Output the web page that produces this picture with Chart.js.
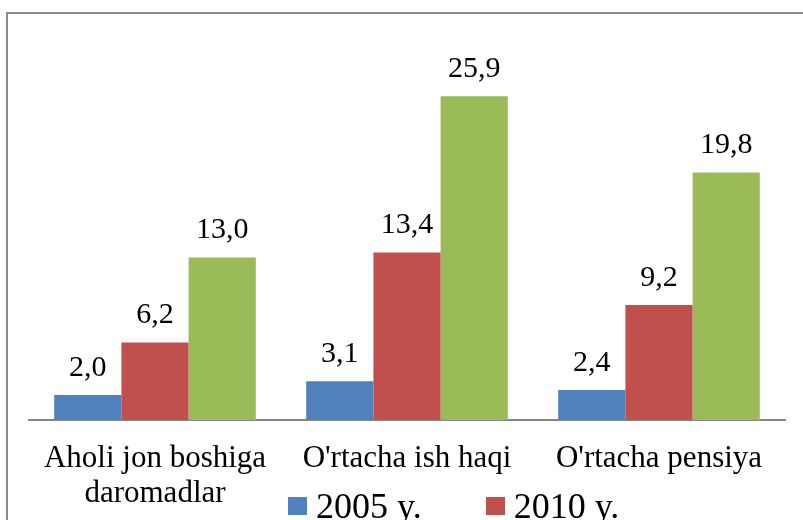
<!DOCTYPE html>
<html>
<head>
<meta charset="utf-8">
<script src="https://cdn.jsdelivr.net/npm/chart.js@4/dist/chart.umd.min.js"></script>
<style>
  html, body { margin: 0; padding: 0; background: #fff; overflow: hidden; width: 803px; height: 520px; }
  #frame { position: absolute; left: 6px; top: 12px; width: 900px; height: 600px; border-left: 2px solid #8c8c8c; border-top: 2px solid #8c8c8c; }
  #chart-wrap { position: absolute; left: 0; top: 0; width: 803px; height: 540px; }
  #legend { position: absolute; left: 288px; top: 484px; width: 345px; font-family: "Liberation Serif", "Times New Roman", serif; font-size: 36px; line-height: 38px; color: #000; }
  .legend-item { display: inline-flex; align-items: center; margin-right: 64px; white-space: nowrap; }
  .legend-item:nth-child(2) { margin-right: 0; }
  .legend-box { display: inline-block; width: 19px; height: 18px; margin-right: 9px; }
</style>
</head>
<body>
<div id="frame"></div>
<div id="chart-wrap"><canvas id="chart"></canvas></div>
<div id="legend"></div>
<script>
// chart data
const categories = [['Aholi jon boshiga', 'daromadlar'], "O'rtacha ish haqi", "O'rtacha pensiya"];
const seriesLabels = ['2005 y.', '2010 y.', '2013 y.'];
const values2005 = [2.0, 3.1, 2.4];
const values2010 = [6.2, 13.4, 9.2];
const values2013 = [13.0, 25.9, 19.8];
const seriesColors = ['#4F81BD', '#C0504D', '#9BBB59'];

const serif = "'Liberation Serif', 'Times New Roman', serif";

// Draw the value above each bar, with a comma as decimal mark
const valueLabels = {
    id: 'valueLabels',
    afterDatasetsDraw(chart) {
        const ctx = chart.ctx;
        ctx.save();
        ctx.font = '30px ' + serif;
        ctx.fillStyle = '#000';
        ctx.textAlign = 'center';
        ctx.textBaseline = 'alphabetic';
        chart.data.datasets.forEach((dataset, i) => {
            chart.getDatasetMeta(i).data.forEach((bar, j) => {
                const text = dataset.data[j].toFixed(1).replace('.', ',');
                ctx.fillText(text, bar.x, bar.y - 19);
            });
        });
        ctx.restore();
    }
};

function buildDatasets() {
    return [values2005, values2010, values2013].map((data, i) => ({
        label: seriesLabels[i],
        data: data,
        backgroundColor: seriesColors[i],
        borderWidth: 0,
        categoryPercentage: 0.8,
        barPercentage: 1.0
    }));
}

// HTML legend; the third entry wraps onto a row below the visible area
function buildLegend(chart) {
    const legend = document.getElementById('legend');
    chart.data.datasets.forEach(dataset => {
        const item = document.createElement('span');
        item.className = 'legend-item';
        const box = document.createElement('span');
        box.className = 'legend-box';
        box.style.background = dataset.backgroundColor;
        item.appendChild(box);
        item.appendChild(document.createTextNode(dataset.label));
        legend.appendChild(item);
    });
}

function makeChart() {
    const chart = new Chart(document.getElementById('chart').getContext('2d'), {
        type: 'bar',
        data: {
            labels: categories,
            datasets: buildDatasets()
        },
        options: {
            responsive: true,
            maintainAspectRatio: false,
            animation: false,
            layout: {
                padding: { left: 29, right: 18, top: 45, bottom: 8 }
            },
            scales: {
                x: {
                    grid: { display: false, drawTicks: false },
                    border: { color: '#868686', width: 2 },
                    ticks: {
                        color: '#000',
                        padding: 21,
                        maxRotation: 0,
                        autoSkip: false,
                        font: { family: serif, size: 31, lineHeight: 1.13 }
                    }
                },
                y: {
                    display: false,
                    min: 0,
                    max: 30
                }
            },
            plugins: {
                legend: { display: false },
                tooltip: { enabled: false }
            }
        },
        plugins: [valueLabels]
    });
    buildLegend(chart);
}

// make sure the serif face is ready before the canvas draws text
Promise.all([
    document.fonts.load("31px 'Liberation Serif'"),
    document.fonts.load("30px 'Liberation Serif'")
]).then(makeChart, makeChart);
</script>
</body>
</html>
